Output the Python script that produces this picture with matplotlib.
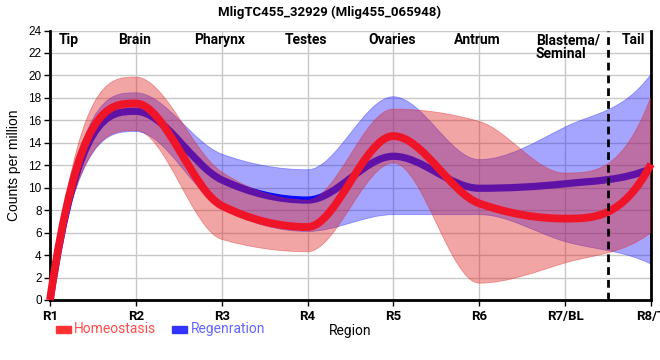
import numpy as np
import matplotlib
matplotlib.use("Agg")
import matplotlib.pyplot as plt
from matplotlib.path import Path
from matplotlib.patches import PathPatch, Rectangle

# valeurs (une valeur par region)
regions = ["R1", "R2", "R3", "R4", "R5", "R6", "R7/BL", "R8/T"]
homeo_mean = [0, 17.5, 8.4, 6.5, 14.6, 8.6, 7.25, 12.1]
homeo_hi = [0, 19.85, 11.4, 8.9, 17.0, 15.9, 11.3, 18.1]
homeo_lo = [0, 15.1, 5.4, 4.3, 12.2, 1.5, 3.3, 6.0]
regen_mean = [0, 16.8, 10.7, 8.9, 12.8, 9.95, 10.35, 11.7]
regen_hi = [0, 18.45, 13.0, 11.6, 18.1, 12.5, 15.4, 20.1]
regen_lo = [0, 15.0, 8.2, 6.1, 7.6, 7.6, 5.2, 3.2]

tissues = ["Brain", "Pharynx", "Testes", "Ovaries", "Antrum"]
title = "MligTC455_32929 (Mlig455_065948)"

NARROW = ["Liberation Sans Narrow", "Roboto", "DejaVu Sans"]
REG = ["Liberation Sans", "DejaVu Sans"]


def tangents(x, y):
    # pentes d'une courbe monotone (comme curveMonotoneX)
    x = np.asarray(x, float)
    y = np.asarray(y, float)
    h = np.diff(x)
    s = np.diff(y) / h
    t = np.zeros(len(x))
    for i in range(1, len(x) - 1):
        s0, s1 = s[i - 1], s[i]
        p = (s0 * h[i] + s1 * h[i - 1]) / (h[i - 1] + h[i])
        t[i] = (np.sign(s0) + np.sign(s1)) * min(abs(s0), abs(s1), 0.5 * abs(p))
    t[0] = 3 * s[0] - t[1]
    t[-1] = 3 * s[-1] - t[-2]
    return t


def bezier_segments(x, y, reverse=False):
    t = tangents(x, y)
    verts = []
    idx = range(len(x) - 1)
    if not reverse:
        for i in idx:
            d = (x[i + 1] - x[i]) / 3
            verts += [(x[i] + d, y[i] + d * t[i]),
                      (x[i + 1] - d, y[i + 1] - d * t[i + 1]),
                      (x[i + 1], y[i + 1])]
    else:
        for i in reversed(idx):
            d = (x[i + 1] - x[i]) / 3
            verts += [(x[i + 1] - d, y[i + 1] - d * t[i + 1]),
                      (x[i] + d, y[i] + d * t[i]),
                      (x[i], y[i])]
    return verts


def curve_path(x, y):
    verts = [(x[0], y[0])] + bezier_segments(x, y)
    codes = [Path.MOVETO] + [Path.CURVE4] * (len(verts) - 1)
    return Path(verts, codes)


def band_path(x, lo, hi):
    up = [(x[0], hi[0])] + bezier_segments(x, hi)
    down = [(x[-1], lo[-1])] + bezier_segments(x, lo, reverse=True)
    verts = up + down + [(x[0], hi[0])]
    codes = ([Path.MOVETO] + [Path.CURVE4] * (len(up) - 1) +
             [Path.LINETO] + [Path.CURVE4] * (len(down) - 1) + [Path.CLOSEPOLY])
    return Path(verts, codes)


xs = np.arange(len(regions), dtype=float)

fig = plt.figure(figsize=(6.6, 3.6), dpi=100)
ax = fig.add_axes([50 / 660, 60 / 360, 601 / 660, 269.5 / 360])

# bandes et lignes
ax.add_patch(PathPatch(band_path(xs, regen_lo, regen_hi), facecolor="#2020ff",
                       alpha=0.4, edgecolor="#2020ff", lw=0.6, zorder=2))
ax.add_patch(PathPatch(curve_path(xs, regen_mean), facecolor="none",
                       edgecolor="#0a0aff", lw=5.2, capstyle="butt", zorder=3))
ax.add_patch(PathPatch(band_path(xs, homeo_lo, homeo_hi), facecolor="#e0201f",
                       alpha=0.4, edgecolor="#e0201f", lw=0.6, zorder=4))
ax.add_patch(PathPatch(curve_path(xs, homeo_mean), facecolor="none",
                       edgecolor="#f01428", lw=5.6, capstyle="butt", zorder=5,
                       clip_on=False))

ax.axvline(6.5, color="black", lw=2, ls=(0, (2.8, 1.8)), zorder=6)

ax.set_xlim(0, 7)
ax.set_ylim(0, 24)
ax.set_yticks(np.arange(0, 25, 2))
ax.set_xticks(xs)
ax.set_xticklabels(regions, family=NARROW, fontweight="bold", fontsize=9.5)
for lab in ax.get_yticklabels():
    lab.set_family(REG)
    lab.set_fontsize(8.5)
ax.grid(True, color="#c8c8c8", lw=1)
ax.set_axisbelow(True)
ax.tick_params(axis="both", length=4, width=1, color="black", pad=2)
ax.tick_params(axis="x", pad=3)

for side in ["left", "bottom", "right"]:
    ax.spines[side].set_linewidth(2)
ax.spines["top"].set_visible(False)

# noms des tissus en haut
ax.text(0.1, 23.75, "Tip", ha="left", va="top", family=NARROW,
        fontweight="bold", fontsize=10)
for i, name in enumerate(tissues):
    ax.text(xs[i + 1] - 0.02, 23.75, name, ha="center", va="top", family=NARROW,
            fontweight="bold", fontsize=10)
ax.text(5.66, 23.75, "Blastema/\nSeminal", ha="left", va="top", family=NARROW,
        fontweight="bold", fontsize=10, linespacing=1.0)
ax.text(6.79, 23.75, "Tail", ha="center", va="top", family=NARROW,
        fontweight="bold", fontsize=10)

ax.set_ylabel("Counts per million", family=REG, fontsize=10, labelpad=5)
ax.set_xlabel("Region", family=NARROW, fontsize=10, labelpad=1)
fig.text(0.5, 1 - 12 / 360, title, ha="center", va="center", family=NARROW,
         fontweight="bold", fontsize=9.5)

# legende
fig.add_artist(Rectangle((56 / 660, 1 - 333 / 360), 15 / 660, 7 / 360,
                         transform=fig.transFigure, color="#ff3333"))
fig.text(74 / 660, 1 - 329 / 360, "Homeostasis", ha="left", va="center",
         family=NARROW, fontsize=10, color="#ff4d4d")
fig.add_artist(Rectangle((172 / 660, 1 - 333 / 360), 15 / 660, 7 / 360,
                         transform=fig.transFigure, color="#3333ff"))
fig.text(191 / 660, 1 - 329 / 360, "Regenration", ha="left", va="center",
         family=NARROW, fontsize=10, color="#6666ff")

plt.savefig("out.png", dpi=100)
